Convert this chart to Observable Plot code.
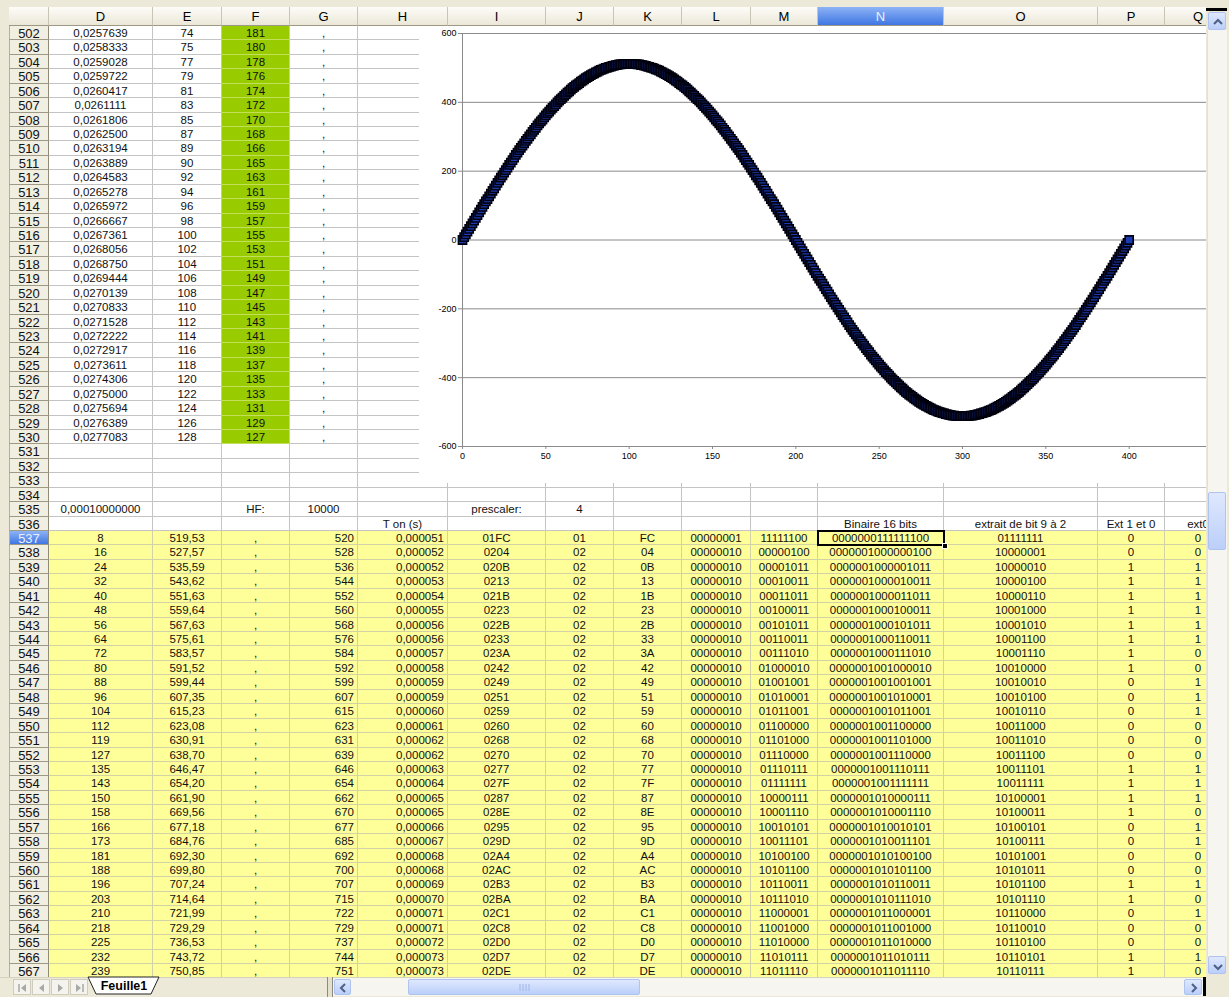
<!DOCTYPE html>
<html>
<head>
<meta charset="utf-8">
<script src="https://cdn.jsdelivr.net/npm/d3@7"></script>
<script src="https://cdn.jsdelivr.net/npm/@observablehq/plot@0.6"></script>
<style>
  html, body { margin: 0; padding: 0; background: #ece9d8; }
  #sheet { position: relative; width: 1229px; height: 997px; overflow: hidden; background: #ece9d8;
           font-family: Arial, "Liberation Sans", sans-serif; }
  #sheet div { position: absolute; box-sizing: border-box; white-space: nowrap; }
  .cell { font-size: 11.5px; color: #111; overflow: hidden; padding: 0 2px; }
  .colhead { font-size: 13px; color: #000; text-align: center; line-height: 19px;
             background: linear-gradient(#fdfcf8, #ebe7d8); border-right: 1px solid #c9c5b4; border-bottom: 1px solid #9d9985; }
  .rowhead { font-size: 13px; color: #111; text-align: center; background: #f1eee2;
             border-bottom: 1px solid #9d9985; border-right: 1px solid #8f8b77; border-left: 1px solid #b3af9c; }
  .sel { background: linear-gradient(#8db3f6, #3f76e2) !important; color: #e8f0ff !important; }
  .btn { background: linear-gradient(#dfe8fd, #bccffa); border: 1px solid #aec3f0; border-radius: 2px; }
</style>
</head>
<body>
<div id="sheet"></div>
<script>
// ---------- sheet contents ----------
const columnNames = ["D", "E", "F", "G", "H", "I", "J", "K", "L", "M", "N", "O", "P", "Q"];
const firstRow = 502, lastRow = 567;

// rows 502-530
const timeD = ["0,0257639","0,0258333","0,0259028","0,0259722","0,0260417","0,0261111","0,0261806","0,0262500","0,0263194","0,0263889","0,0264583","0,0265278","0,0265972","0,0266667","0,0267361","0,0268056","0,0268750","0,0269444","0,0270139","0,0270833","0,0271528","0,0272222","0,0272917","0,0273611","0,0274306","0,0275000","0,0275694","0,0276389","0,0277083"];
const riseE = [74,75,77,79,81,83,85,87,89,90,92,94,96,98,100,102,104,106,108,110,112,114,116,118,120,122,124,126,128];
const fallF = [181,180,178,176,174,172,170,168,166,165,163,161,159,157,155,153,151,149,147,145,143,141,139,137,135,133,131,129,127];

// rows 535-536
const paramLabels = [
  {row: 535, col: "D", text: "0,00010000000"},
  {row: 535, col: "F", text: "HF:"},
  {row: 535, col: "G", text: "10000"},
  {row: 535, col: "I", text: "prescaler:"},
  {row: 535, col: "J", text: "4"},
  {row: 536, col: "H", text: "T on (s)"},
  {row: 536, col: "N", text: "Binaire 16 bits"},
  {row: 536, col: "O", text: "extrait de bit 9 à 2"},
  {row: 536, col: "P", text: "Ext 1 et 0"},
  {row: 536, col: "Q", text: "ext0"}
];

// rows 537-567
const sineD = [8,16,24,32,40,48,56,64,72,80,88,96,104,112,119,127,135,143,150,158,166,173,181,188,196,203,210,218,225,232,239];
const offsetE = ["519,53","527,57","535,59","543,62","551,63","559,64","567,63","575,61","583,57","591,52","599,44","607,35","615,23","623,08","630,91","638,70","646,47","654,20","661,90","669,56","677,18","684,76","692,30","699,80","707,24","714,64","721,99","729,29","736,53","743,72","750,85"];
const countG = [520,528,536,544,552,560,568,576,584,592,599,607,615,623,631,639,646,654,662,670,677,685,692,700,707,715,722,729,737,744,751];
const tOnH = ["0,000051","0,000052","0,000052","0,000053","0,000054","0,000055","0,000056","0,000056","0,000057","0,000058","0,000059","0,000059","0,000060","0,000061","0,000062","0,000062","0,000063","0,000064","0,000065","0,000065","0,000066","0,000067","0,000068","0,000068","0,000069","0,000070","0,000071","0,000071","0,000072","0,000073","0,000073"];
const hexI = ["01FC","0204","020B","0213","021B","0223","022B","0233","023A","0242","0249","0251","0259","0260","0268","0270","0277","027F","0287","028E","0295","029D","02A4","02AC","02B3","02BA","02C1","02C8","02D0","02D7","02DE"];
const hexHighJ = ["01","02","02","02","02","02","02","02","02","02","02","02","02","02","02","02","02","02","02","02","02","02","02","02","02","02","02","02","02","02","02"];
const hexLowK = ["FC","04","0B","13","1B","23","2B","33","3A","42","49","51","59","60","68","70","77","7F","87","8E","95","9D","A4","AC","B3","BA","C1","C8","D0","D7","DE"];
const binHighL = ["00000001","00000010","00000010","00000010","00000010","00000010","00000010","00000010","00000010","00000010","00000010","00000010","00000010","00000010","00000010","00000010","00000010","00000010","00000010","00000010","00000010","00000010","00000010","00000010","00000010","00000010","00000010","00000010","00000010","00000010","00000010"];
const binLowM = ["11111100","00000100","00001011","00010011","00011011","00100011","00101011","00110011","00111010","01000010","01001001","01010001","01011001","01100000","01101000","01110000","01110111","01111111","10000111","10001110","10010101","10011101","10100100","10101100","10110011","10111010","11000001","11001000","11010000","11010111","11011110"];
const bin16N = ["0000000111111100","0000001000000100","0000001000001011","0000001000010011","0000001000011011","0000001000100011","0000001000101011","0000001000110011","0000001000111010","0000001001000010","0000001001001001","0000001001010001","0000001001011001","0000001001100000","0000001001101000","0000001001110000","0000001001110111","0000001001111111","0000001010000111","0000001010001110","0000001010010101","0000001010011101","0000001010100100","0000001010101100","0000001010110011","0000001010111010","0000001011000001","0000001011001000","0000001011010000","0000001011010111","0000001011011110"];
const bits9to2O = ["01111111","10000001","10000010","10000100","10000110","10001000","10001010","10001100","10001110","10010000","10010010","10010100","10010110","10011000","10011010","10011100","10011101","10011111","10100001","10100011","10100101","10100111","10101001","10101011","10101100","10101110","10110000","10110010","10110100","10110101","10110111"];
const bit1P = [0,0,1,1,1,1,1,1,1,1,0,0,0,0,0,0,1,1,1,1,0,0,0,0,1,1,0,0,0,1,1];
const bit0Q = [0,0,1,1,1,1,1,1,0,0,1,1,1,0,0,0,1,1,1,0,1,1,0,0,1,0,1,0,0,1,0];

// ---------- chart series: one period of the table, sample by sample ----------
const waveQ1 = [0,8,16,24,32,40,48,56,64,72,80,88,96,104,112,119,127,135,143,150,158,166,173,181,188,196,203,210,218,225,232,239,247,254,261,268,274,281,288,294,301,307,314,320,326,333,339,345,350,356,362,368,373,379,384,389,394,400,405,409,414,419,423,428,432,437,441,445,449,452,456,460,463,467,470,473,476,479,482,484,487,489,492,494,496,498,500,501,503,504,506,507,508,509,510,510,511,511,512,512,512];
const waveQ2 = [512,512,511,511,510,510,509,508,507,506,504,503,501,500,498,496,494,492,489,487,484,482,479,476,473,470,467,463,460,456,452,449,445,441,437,432,428,423,419,414,409,405,400,394,389,384,379,373,368,362,356,350,345,339,333,326,320,314,307,301,294,288,281,274,268,261,254,247,239,232,225,218,210,203,196,188,181,173,166,158,150,143,135,127,119,112,104,96,88,80,72,64,56,48,40,32,24,16,8,0];
const waveQ3 = [-8,-16,-24,-32,-40,-48,-56,-64,-72,-80,-88,-96,-104,-112,-119,-127,-135,-143,-150,-158,-166,-173,-181,-188,-196,-203,-210,-218,-225,-232,-239,-247,-254,-261,-268,-274,-281,-288,-294,-301,-307,-314,-320,-326,-333,-339,-345,-350,-356,-362,-368,-373,-379,-384,-389,-394,-400,-405,-409,-414,-419,-423,-428,-432,-437,-441,-445,-449,-452,-456,-460,-463,-467,-470,-473,-476,-479,-482,-484,-487,-489,-492,-494,-496,-498,-500,-501,-503,-504,-506,-507,-508,-509,-510,-510,-511,-511,-512,-512,-512];
const waveQ4 = [-512,-512,-511,-511,-510,-510,-509,-508,-507,-506,-504,-503,-501,-500,-498,-496,-494,-492,-489,-487,-484,-482,-479,-476,-473,-470,-467,-463,-460,-456,-452,-449,-445,-441,-437,-432,-428,-423,-419,-414,-409,-405,-400,-394,-389,-384,-379,-373,-368,-362,-356,-350,-345,-339,-333,-326,-320,-314,-307,-301,-294,-288,-281,-274,-268,-261,-254,-247,-239,-232,-225,-218,-210,-203,-196,-188,-181,-173,-166,-158,-150,-143,-135,-127,-119,-112,-104,-96,-88,-80,-72,-64,-56,-48,-40,-32,-24,-16,-8,0];
const xTicks = [0, 50, 100, 150, 200, 250, 300, 350, 400];
const yTicks = [-600, -400, -200, 0, 200, 400, 600];

// ---------- layout ----------
const colEdge = [49,153,222,290,358,448,546,614,682,751,818,944,1098,1165,1232];
const headTop = 7, headBottom = 26, rowH = 14.43;
const rowTop = r => Math.round(headBottom + (r - firstRow) * rowH);

const sheet = document.getElementById("sheet");
function box(x, y, w, h, css, text, cls) {
  const d = document.createElement("div");
  if (cls) d.className = cls;
  d.style.cssText = `left:${x}px;top:${y}px;width:${w}px;height:${h}px;${css || ""}`;
  if (text != null) d.textContent = text;
  sheet.appendChild(d);
  return d;
}

function cellContent(col, row) {
  const i = row - firstRow, j = row - 537;
  const label = paramLabels.find(p => p.row === row && p.col === col);
  if (label) return {text: label.text, align: "center"};
  if (row <= 530) {
    if (col === "D") return {text: timeD[i], align: "center"};
    if (col === "E") return {text: String(riseE[i]), align: "center"};
    if (col === "F") return {text: String(fallF[i]), align: "center", fill: "#99cc00", line: "#c4e05a"};
    if (col === "G") return {text: ",", align: "center"};
    return {text: ""};
  }
  if (row >= 537) {
    const y = {fill: "#ffff99", line: "#d2d2a6"};
    const cols = {
      D: [String(sineD[j]), "center"], E: [offsetE[j], "center"], F: [",", "center"],
      G: [String(countG[j]), "right"], H: [tOnH[j], "right"], I: [hexI[j], "center"],
      J: [hexHighJ[j], "center"], K: [hexLowK[j], "center"], L: [binHighL[j], "center"],
      M: [binLowM[j], "center"], N: [bin16N[j], "center"], O: [bits9to2O[j], "center"],
      P: [String(bit1P[j]), "center"], Q: [String(bit0Q[j]), "center"]
    };
    return {text: cols[col][0], align: cols[col][1], ...y};
  }
  return {text: ""};
}

// grid cells
for (let r = firstRow; r <= lastRow; r++) {
  const y0 = rowTop(r), h = rowTop(r + 1) - y0;
  columnNames.forEach((c, k) => {
    const x0 = colEdge[k], w = colEdge[k + 1] - x0;
    const cc = cellContent(c, r);
    const line = cc.line || "#c4c4c4";
    box(x0, y0, w, h,
      `background:${cc.fill || "#fff"};border-right:1px solid ${line};border-bottom:1px solid ${line};` +
      `text-align:${cc.align || "left"};line-height:${h}px;padding-right:${cc.align === "right" ? 3 : 2}px;`,
      cc.text, "cell");
  });
  // row header
  const rh = box(9, y0, 40, h, `line-height:${h + 1}px;`, String(r), "rowhead");
  if (r === 537) rh.classList.add("sel");
}

// column headers
box(9, headTop, 40, headBottom - headTop, "", null, "colhead");
columnNames.forEach((c, k) => {
  const hd = box(colEdge[k], headTop, colEdge[k + 1] - colEdge[k], headBottom - headTop, "", c, "colhead");
  if (c === "N") hd.classList.add("sel");
});

// ---------- embedded scatter chart ----------
const chartBox = box(419, 26, 795, 457, "background:#fff;overflow:hidden;");
const wave = waveQ1.concat(waveQ2, waveQ3, waveQ4).map((v, k) => ({sample: k, value: v}));
const chart = Plot.plot({
  width: 795,
  height: 457,
  marginLeft: 43,
  marginRight: 2,
  marginTop: 7,
  marginBottom: 37,
  style: {background: "#fff", fontFamily: "Arial, 'Liberation Sans', sans-serif", fontSize: "9px", color: "#000"},
  x: {domain: [0, 450]},
  y: {domain: [-600, 600]},
  marks: [
    Plot.ruleY(yTicks, {stroke: "#8a8a8a", strokeWidth: 1}),
    Plot.ruleX([0], {stroke: "#8a8a8a", strokeWidth: 1}),
    Plot.axisY({ticks: yTicks, tickSize: 4, tickPadding: 2, tickFormat: d => String(d), stroke: "#8a8a8a", fill: "#000", label: null}),
    Plot.axisX({ticks: xTicks, tickSize: 3, tickPadding: 3, tickFormat: d => String(d), stroke: "#8a8a8a", fill: "#000", label: null}),
    Plot.dot(wave, {x: "sample", y: "value", symbol: "square", r: 4.6, fill: "#1d3bb0", stroke: "#00000e", strokeWidth: 1.6})
  ]
});
chart.style.display = "block";
chartBox.appendChild(chart);

// active cell N537
box(817, rowTop(537) - 1, 128, rowTop(538) - rowTop(537) + 2, "border:2px solid #000;z-index:3;");
box(942, rowTop(538) - 2, 6, 6, "background:#000;border:1px solid #fff;z-index:4;");

// ---------- window chrome ----------
function chevron(dir) {
  const p = {up: "5,10 9,6 13,10", down: "5,7 9,11 13,7", left: "10,4 6,8 10,12", right: "7,4 11,8 7,12"}[dir];
  return `<svg width="18" height="16" style="display:block"><polyline points="${p}" fill="none" stroke="#4d6185" stroke-width="2"/></svg>`;
}
// vertical scrollbar
box(1206, 0, 23, 997, "background:#ece9d8;z-index:5;");
box(1206, 8, 21, 3, "background:#000;z-index:6;");
box(1207, 30, 20, 926, "background:#f6f5f0;border-left:1px solid #e2e0d6;z-index:6;");
box(1208, 12, 18, 18, "z-index:7;padding-top:1px;", null, "btn").innerHTML = chevron("up");
box(1208, 492, 18, 58, "z-index:7;", null, "btn");
box(1208, 956, 18, 18, "z-index:7;padding-top:1px;", null, "btn").innerHTML = chevron("down");

// bottom bar: sheet tabs and horizontal scrollbar
box(0, 977, 1206, 20, "background:#ece9d8;border-top:1px solid #d6d2c2;z-index:5;");
["first", "prev", "next", "last"].forEach((n, k) => {
  const b = box(13 + k * 19, 979, 18, 16, "background:#f4f3ee;border:1px solid #cfccbd;z-index:6;");
  const tri = {
    first: '<line x1="5" y1="4" x2="5" y2="12" stroke="#a8a8a8" stroke-width="1.5"/><polygon points="12,4 7,8 12,12" fill="#a8a8a8"/>',
    prev: '<polygon points="11,4 6,8 11,12" fill="#a8a8a8"/>',
    next: '<polygon points="6,4 11,8 6,12" fill="#a8a8a8"/>',
    last: '<polygon points="5,4 10,8 5,12" fill="#a8a8a8"/><line x1="12" y1="4" x2="12" y2="12" stroke="#a8a8a8" stroke-width="1.5"/>'
  }[n];
  b.innerHTML = `<svg width="16" height="14" style="display:block">${tri}</svg>`;
});
const tab = box(86, 976, 76, 20, "z-index:7;");
tab.innerHTML = '<svg width="76" height="20" style="display:block"><polygon points="2,1 10,18 65,18 73,1" fill="#fff" stroke="#222" stroke-width="1"/>' +
  '<text x="38" y="14" text-anchor="middle" font-family="Arial, Liberation Sans, sans-serif" font-weight="bold" font-size="12.5">Feuille1</text></svg>';
box(327, 977, 6, 20, "background:#e4e0d0;border-left:1px solid #8c8a7c;border-right:1px solid #8c8a7c;z-index:6;");
box(333, 978, 870, 18, "background:#f6f5f0;z-index:6;");
box(334, 979, 17, 16, "z-index:7;", null, "btn").innerHTML = chevron("left");
const thumb = box(408, 979, 232, 16, "z-index:7;", null, "btn");
thumb.innerHTML = '<svg width="232" height="14" style="display:block"><g stroke="#9fb6e8"><line x1="111" y1="4" x2="111" y2="11"/><line x1="114" y1="4" x2="114" y2="11"/><line x1="117" y1="4" x2="117" y2="11"/><line x1="120" y1="4" x2="120" y2="11"/></g></svg>';
box(1184, 979, 18, 16, "z-index:7;", null, "btn").innerHTML = chevron("right");
box(1203, 977, 3, 19, "background:#000;z-index:7;");
</script>
</body>
</html>
